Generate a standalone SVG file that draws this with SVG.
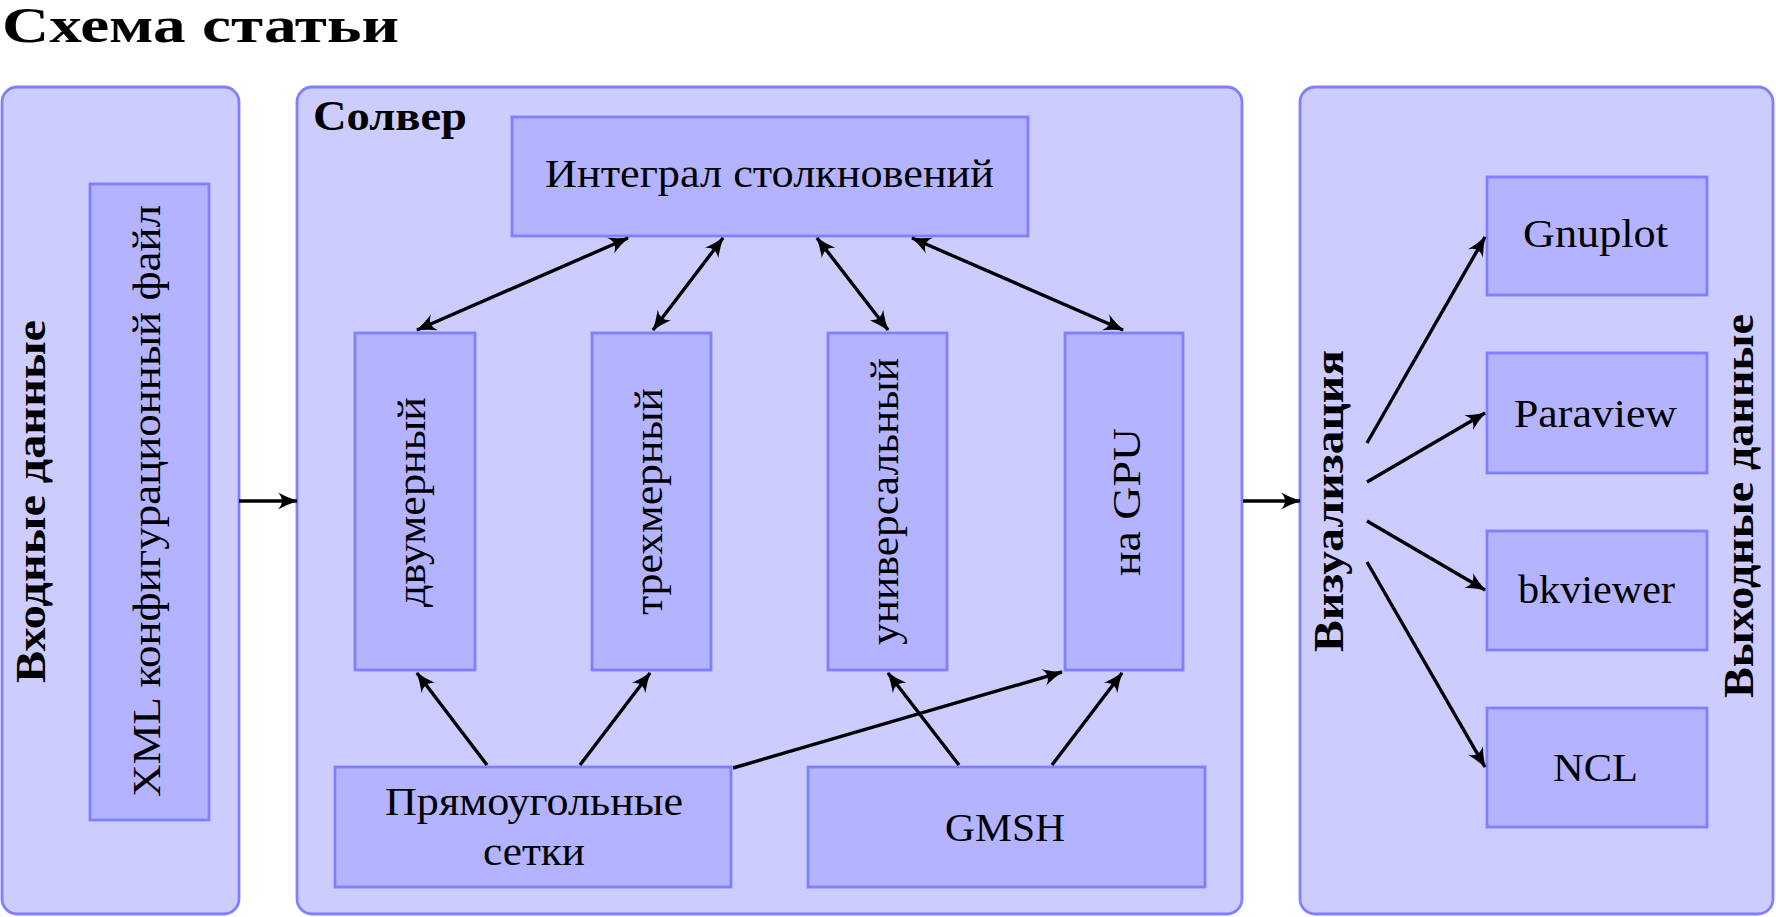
<svg xmlns="http://www.w3.org/2000/svg" width="1776" height="917" viewBox="0 0 1776 917">
<style>
.cont{fill:#ccccff;stroke:#8080ff;stroke-width:2.8}
.box{fill:#b3b3ff;stroke:#8080ff;stroke-width:2.8}
.t{font-family:"Liberation Serif","DejaVu Serif",serif;font-size:41px;fill:#000}
.b{font-family:"Liberation Serif","DejaVu Serif",serif;font-weight:bold;font-size:42px;fill:#000}
.c line{stroke:#000;stroke-width:3.4;fill:none}
.one{marker-end:url(#ah)}
.two{marker-start:url(#ah);marker-end:url(#ah)}
</style>
<defs>
<marker id="ah" markerUnits="userSpaceOnUse" viewBox="-21 -10 23 20" refX="0" refY="0" markerWidth="23" markerHeight="20" orient="auto-start-reverse">
<path d="M1,0 Q-9,-3 -19,-8.5 Q-11,0 -19,8.5 Q-9,3 1,0 Z" fill="#000"/>
</marker>
</defs>

<text class="b" x="2" y="42" style="font-size:51px" textLength="397" lengthAdjust="spacingAndGlyphs">Схема статьи</text>

<g id="input">
<rect class="cont" x="2" y="87" width="237" height="827" rx="15"/>
<text class="b" transform="translate(45,683) rotate(-90)" textLength="363" lengthAdjust="spacingAndGlyphs">Входные данные</text>
</g>
<g id="xml">
<rect class="box" x="90" y="184" width="119" height="636"/>
<text class="t" transform="translate(160,797) rotate(-90)" textLength="592" lengthAdjust="spacingAndGlyphs">XML конфигурационный файл</text>
</g>

<g id="solver">
<rect class="cont" x="297" y="87" width="945" height="827" rx="15"/>
<text class="b" x="313" y="130" textLength="154" lengthAdjust="spacingAndGlyphs">Солвер</text>
</g>
<g id="integral">
<rect class="box" x="512" y="117" width="516" height="119"/>
<text class="t" x="545" y="187" textLength="449" lengthAdjust="spacingAndGlyphs">Интеграл столкновений</text>
</g>
<g id="dvumerny">
<rect class="box" x="355" y="333" width="120" height="337"/>
<text class="t" transform="translate(425,607) rotate(-90)" textLength="210" lengthAdjust="spacingAndGlyphs">двумерный</text>
</g>
<g id="trehmerny">
<rect class="box" x="592" y="333" width="119" height="337"/>
<text class="t" transform="translate(662,615) rotate(-90)" textLength="227" lengthAdjust="spacingAndGlyphs">трехмерный</text>
</g>
<g id="universalny">
<rect class="box" x="828" y="333" width="119" height="337"/>
<text class="t" transform="translate(898,645) rotate(-90)" textLength="287" lengthAdjust="spacingAndGlyphs">универсальный</text>
</g>
<g id="gpu">
<rect class="box" x="1065" y="333" width="118" height="337"/>
<text class="t" transform="translate(1140,576) rotate(-90)" textLength="148" lengthAdjust="spacingAndGlyphs">на GPU</text>
</g>
<g id="rect-grids">
<rect class="box" x="335" y="767" width="396" height="120"/>
<text class="t" x="385" y="815" textLength="298" lengthAdjust="spacingAndGlyphs">Прямоугольные</text>
<text class="t" x="483" y="865" textLength="102" lengthAdjust="spacingAndGlyphs">сетки</text>
</g>
<g id="gmsh">
<rect class="box" x="808" y="767" width="397" height="120"/>
<text class="t" x="945" y="841" textLength="120" lengthAdjust="spacingAndGlyphs">GMSH</text>
</g>

<g id="output">
<rect class="cont" x="1300" y="87" width="473" height="827" rx="15"/>
<text class="b" transform="translate(1343,652) rotate(-90)" textLength="302" lengthAdjust="spacingAndGlyphs">Визуализация</text>
<text class="b" transform="translate(1753,698) rotate(-90)" textLength="384" lengthAdjust="spacingAndGlyphs">Выходные данные</text>
</g>
<g id="gnuplot">
<rect class="box" x="1487" y="177" width="220" height="118"/>
<text class="t" x="1523" y="247" textLength="145" lengthAdjust="spacingAndGlyphs">Gnuplot</text>
</g>
<g id="paraview">
<rect class="box" x="1487" y="353" width="220" height="120"/>
<text class="t" x="1514" y="427" textLength="163" lengthAdjust="spacingAndGlyphs">Paraview</text>
</g>
<g id="bkviewer">
<rect class="box" x="1487" y="531" width="220" height="119"/>
<text class="t" x="1518" y="603" textLength="157" lengthAdjust="spacingAndGlyphs">bkviewer</text>
</g>
<g id="ncl">
<rect class="box" x="1487" y="708" width="220" height="119"/>
<text class="t" x="1553" y="781" textLength="85" lengthAdjust="spacingAndGlyphs">NCL</text>
</g>

<g id="connectors" class="c">
<line class="one" x1="239" y1="501" x2="297" y2="501"/>
<line class="one" x1="1243" y1="501" x2="1300" y2="501"/>
<line class="two" x1="417" y1="330" x2="628" y2="238"/>
<line class="two" x1="653" y1="330" x2="723" y2="238"/>
<line class="two" x1="888" y1="330" x2="817" y2="238"/>
<line class="two" x1="1123" y1="330" x2="912" y2="238"/>
<line class="one" x1="487" y1="765" x2="417" y2="673"/>
<line class="one" x1="580" y1="765" x2="650" y2="673"/>
<line class="one" x1="733" y1="768" x2="1062" y2="672"/>
<line class="one" x1="959" y1="765" x2="888" y2="673"/>
<line class="one" x1="1052" y1="765" x2="1122" y2="673"/>
<line class="one" x1="1367" y1="443" x2="1485" y2="237"/>
<line class="one" x1="1367" y1="482" x2="1485" y2="413"/>
<line class="one" x1="1367" y1="521" x2="1485" y2="590"/>
<line class="one" x1="1367" y1="562" x2="1485" y2="767"/>
</g>
</svg>
